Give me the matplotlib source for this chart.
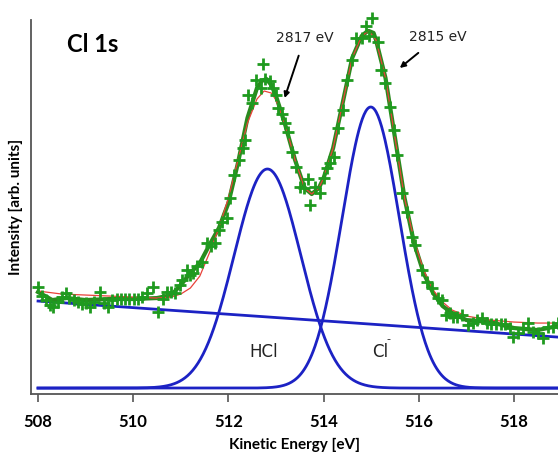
import numpy as np
import matplotlib
matplotlib.use("Agg")
import matplotlib.pyplot as plt

# measured points (kinetic energy [eV], intensity [arb.])
energy = [508.00, 508.08, 508.17, 508.25, 508.32, 508.41, 508.50, 508.58, 508.66, 508.75,
          508.83, 508.92, 509.00, 509.09, 509.17, 509.30, 509.38, 509.47, 509.56, 509.65,
          509.74, 509.83, 509.92, 510.01, 510.10, 510.19, 510.28, 510.42, 510.52, 510.63,
          510.72, 510.80, 510.88, 510.98, 511.02, 511.12, 511.20, 511.26, 511.35, 511.44,
          511.54, 511.63, 511.72, 511.80, 511.86, 511.96, 512.03, 512.12, 512.22, 512.30,
          512.35, 512.41, 512.49, 512.58, 512.68, 512.73, 512.77, 512.87, 512.94, 513.01,
          513.05, 513.12, 513.18, 513.25, 513.33, 513.43, 513.50, 513.59, 513.67, 513.71,
          513.82, 513.92, 514.00, 514.07, 514.14, 514.22, 514.30, 514.40, 514.49, 514.59,
          514.68, 514.80, 514.90, 514.95, 515.01, 515.14, 515.20, 515.29, 515.40, 515.47,
          515.54, 515.64, 515.75, 515.85, 515.93, 516.06, 516.17, 516.27, 516.40, 516.48,
          516.58, 516.66, 516.72, 516.80, 516.90, 517.03, 517.14, 517.23, 517.32, 517.43,
          517.52, 517.62, 517.72, 517.82, 517.92, 517.98, 518.09, 518.19, 518.30, 518.40,
          518.50, 518.61, 518.71, 518.82, 518.92]
counts = [101, 92, 88, 83, 81, 86, 91, 95, 90, 88,
          86, 84, 85, 81, 86, 96, 85, 81, 88, 89,
          89, 89, 89, 89, 89, 91, 95, 101, 76, 89,
          96, 96, 95, 103, 108, 118, 113, 115, 122, 126,
          145, 142, 145, 158, 166, 170, 190, 213, 228, 240,
          248, 293, 285, 308, 300, 324, 309, 307, 300, 293,
          280, 274, 265, 256, 236, 221, 201, 200, 209, 183,
          201, 195, 210, 220, 225, 231, 260, 278, 308, 328,
          350, 350, 362, 352, 370, 346, 318, 305, 281, 258,
          233, 195, 176, 151, 143, 118, 106, 100, 90, 88,
          73, 75, 71, 71, 73, 63, 65, 68, 70, 65,
          64, 64, 64, 64, 60, 51, 55, 60, 65, 56,
          55, 50, 61, 61, 65]

# smoothed data (thick green line)
smooth_x = [508.0, 508.3, 508.6, 509.0, 509.5, 510.0, 510.5, 510.8, 511.0, 511.2,
            511.4, 511.6, 511.8, 512.0, 512.2, 512.4, 512.6, 512.7, 512.8, 512.9,
            513.0, 513.2, 513.4, 513.6, 513.75, 513.9, 514.0, 514.2, 514.4, 514.6,
            514.8, 514.9, 514.95, 515.05, 515.1, 515.3, 515.5, 515.7, 515.9, 516.1,
            516.3, 516.5, 516.7, 517.0, 517.5, 518.0, 518.5, 518.92]
smooth_y = [96, 88, 90, 88, 89, 89, 90, 93, 103, 115,
            125, 143, 160, 185, 225, 270, 300, 307, 309, 303,
            292, 262, 228, 200, 194, 200, 210, 240, 285, 330,
            352, 356, 357, 355, 348, 310, 250, 190, 145, 115,
            95, 82, 75, 68, 66, 60, 58, 62]

# total fit envelope (thin red line)
fit_x = [508.0, 508.5, 509.0, 509.5, 510.0, 510.5, 510.8, 511.0, 511.2, 511.4,
         511.6, 511.8, 512.0, 512.2, 512.4, 512.6, 512.75, 512.9, 513.0, 513.2,
         513.4, 513.6, 513.75, 513.9, 514.0, 514.2, 514.4, 514.6, 514.8, 514.95,
         515.1, 515.3, 515.5, 515.7, 515.9, 516.1, 516.3, 516.5, 516.7, 517.0,
         517.5, 518.0, 518.5, 518.92]
fit_y = [97, 94, 93, 92, 91, 90, 91, 94, 100, 112,
         135, 160, 190, 228, 265, 289, 297, 295, 288, 262,
         228, 200, 194, 200, 210, 240, 285, 330, 352, 357,
         348, 310, 250, 190, 148, 118, 98, 86, 78, 72,
         68, 66, 65, 65]

# fit components: HCl and Cl-
peak_centers = [512.82, 514.99]
peak_heights = [219, 281]
peak_sigmas = [0.70, 0.60]
bg_start, bg_slope = 87, -3.3   # linear background, value at 508 eV

x = np.linspace(508, 519, 600)
comps = [h * np.exp(-(x - c) ** 2 / (2 * s ** 2))
         for c, h, s in zip(peak_centers, peak_heights, peak_sigmas)]
bg = bg_start + bg_slope * (x - 508)

blue = "#1c22c4"
fig = plt.figure(figsize=(5.58, 4.54), dpi=100)
ax = fig.add_axes([0.0556, 0.132, 0.9444, 0.824])

for comp in comps:
    ax.plot(x, comp, color=blue, lw=2)
ax.plot(x, bg, color=blue, lw=2)
ax.plot(smooth_x, smooth_y, color="#2a8a1e", lw=3, zorder=3)
ax.plot(fit_x, fit_y, color="#e8423a", lw=0.9, zorder=4)
ax.plot(energy, counts, "+", color="#1f9a1f", ms=9, mew=2, zorder=5, clip_on=False)

ax.set_xlim(507.853, 518.924)
ax.set_ylim(-6, 368)
ax.set_xticks([508, 510, 512, 514, 516, 518])
ax.set_yticks([])
ax.tick_params(axis="x", direction="out", length=6, width=1.2, color="#555555", pad=8)
for lab in ax.get_xticklabels():
    lab.set_fontfamily("Lato")
    lab.set_fontweight("bold")
    lab.set_fontsize(12)
for side in ["top", "right"]:
    ax.spines[side].set_visible(False)
for side in ["left", "bottom"]:
    ax.spines[side].set_color("#555555")
    ax.spines[side].set_linewidth(1.3)

ax.set_xlabel("Kinetic Energy [eV]", fontfamily="Lato", fontweight="bold", fontsize=11, labelpad=6)
ax.set_ylabel("Intensity [arb. units]", fontfamily="Lato", fontweight="bold", fontsize=11, labelpad=6)

ax.text(508.6, 343, "Cl 1s", fontfamily="Lato", fontweight="bold", fontsize=17, va="center")

ax.annotate("2817 eV", xy=(513.18, 290), xytext=(513.6, 350), ha="center", va="center",
            fontsize=10, color="#222222",
            arrowprops=dict(arrowstyle="-|>", color="black", lw=1.4, mutation_scale=8,
                            shrinkA=6, shrinkB=0))
ax.annotate("2815 eV", xy=(515.6, 320), xytext=(516.4, 351), ha="center", va="center",
            fontsize=10, color="#222222",
            arrowprops=dict(arrowstyle="-|>", color="black", lw=1.4, mutation_scale=8,
                            shrinkA=7, shrinkB=0))

ax.text(512.74, 36, "HCl", ha="center", va="center", fontsize=12, color="#222222")
ax.text(515.18, 36, "Cl", ha="center", va="center", fontsize=12, color="#222222")
ax.text(515.36, 49, "-", ha="center", va="center", fontsize=8, color="#222222")

fig.savefig("out.png", dpi=100)
